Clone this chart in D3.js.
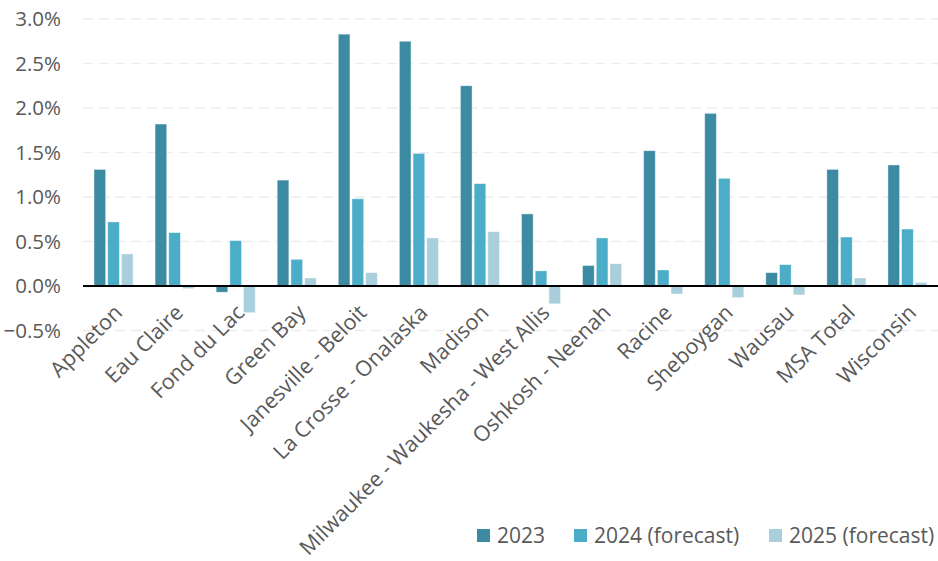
<!DOCTYPE html>
<html><head><meta charset="utf-8">
<script src="https://cdn.jsdelivr.net/npm/d3@7"></script>
<style>body{margin:0;background:#fff}svg{display:block}</style>
</head><body><svg id="c" width="938" height="561"></svg>
<script>
const categories = ["Appleton","Eau Claire","Fond du Lac","Green Bay","Janesville - Beloit","La Crosse - Onalaska","Madison","Milwaukee - Waukesha - West Allis","Oshkosh - Neenah","Racine","Sheboygan","Wausau","MSA Total","Wisconsin"];
const seriesNames = ["2023","2024 (forecast)","2025 (forecast)"];
const v2023 = [1.31,1.82,-0.07,1.19,2.83,2.75,2.25,0.81,0.23,1.52,1.94,0.15,1.31,1.36];
const v2024 = [0.72,0.60,0.51,0.30,0.98,1.49,1.15,0.17,0.54,0.18,1.21,0.24,0.55,0.64];
const v2025 = [0.36,-0.03,-0.30,0.09,0.15,0.54,0.61,-0.20,0.25,-0.09,-0.13,-0.10,0.09,0.04];
const yTicks = [-0.5,0,0.5,1.0,1.5,2.0,2.5,3.0];
const colors = ["#3d8ba3","#4badc7","#a9cfdd"];

const svg = d3.select("#c");
const plotLeft = 83, plotRight = 938, plotTop = 19, zeroY = 286;
const y = d3.scaleLinear().domain([0,3]).range([zeroY, plotTop]);
const x = d3.scaleBand().domain(categories).range([plotLeft,plotRight]).paddingInner(0.36).paddingOuter(0.18);
const xs = d3.scaleBand().domain(seriesNames).range([0,x.bandwidth()]).paddingInner(0.15);
const series = [v2023,v2024,v2025];

// gridlines
svg.append("g").selectAll("line").data(yTicks.filter(t=>t!==0)).join("line")
  .attr("x1",plotLeft).attr("x2",plotRight).attr("y1",d=>y(d)).attr("y2",d=>y(d))
  .attr("stroke","#ececec").attr("stroke-width",1.3).attr("stroke-dasharray","10,6");

// y labels
svg.append("g").selectAll("text").data(yTicks).join("text")
  .attr("x",61).attr("y",d=>y(d)).attr("dy","0.35em").attr("text-anchor","end")
  .attr("font-family","Open Sans, sans-serif").attr("font-size",20.5).attr("fill","#595959")
  .text(d=>d3.format(".1f")(d)+"%");

// bars
series.forEach((vals,si)=>{
  svg.append("g").selectAll("rect").data(vals).join("rect")
    .attr("x",(d,i)=>x(categories[i])+xs(seriesNames[si]))
    .attr("width",xs.bandwidth())
    .attr("y",d=>y(Math.max(0,d)))
    .attr("height",d=>Math.abs(y(d)-y(0)))
    .attr("fill",colors[si]).attr("stroke","#ffffff").attr("stroke-opacity",0.5).attr("stroke-width",0.8);
});

// zero line
svg.append("line").attr("x1",plotLeft).attr("x2",plotRight).attr("y1",y(0)).attr("y2",y(0))
  .attr("stroke","#000").attr("stroke-width",2);

// x labels
svg.append("g").selectAll("text").data(categories).join("text")
  .attr("transform",d=>`translate(${x(d)+x.bandwidth()/2+10},${314}) rotate(-45)`)
  .attr("text-anchor","end")
  .attr("font-family","Open Sans, sans-serif").attr("font-size",21.5).attr("fill","#595959")
  .text(d=>d);

// legend
const legX = [477,574,769];
const leg = svg.append("g");
seriesNames.forEach((s,i)=>{
  leg.append("rect").attr("x",legX[i]).attr("y",529).attr("width",13).attr("height",13).attr("fill",colors[i]);
  leg.append("text").attr("x",legX[i]+20).attr("y",536).attr("dy","0.35em")
    .attr("font-family","Open Sans, sans-serif").attr("font-size",21).attr("fill","#595959").text(s);
});
</script></body></html>
